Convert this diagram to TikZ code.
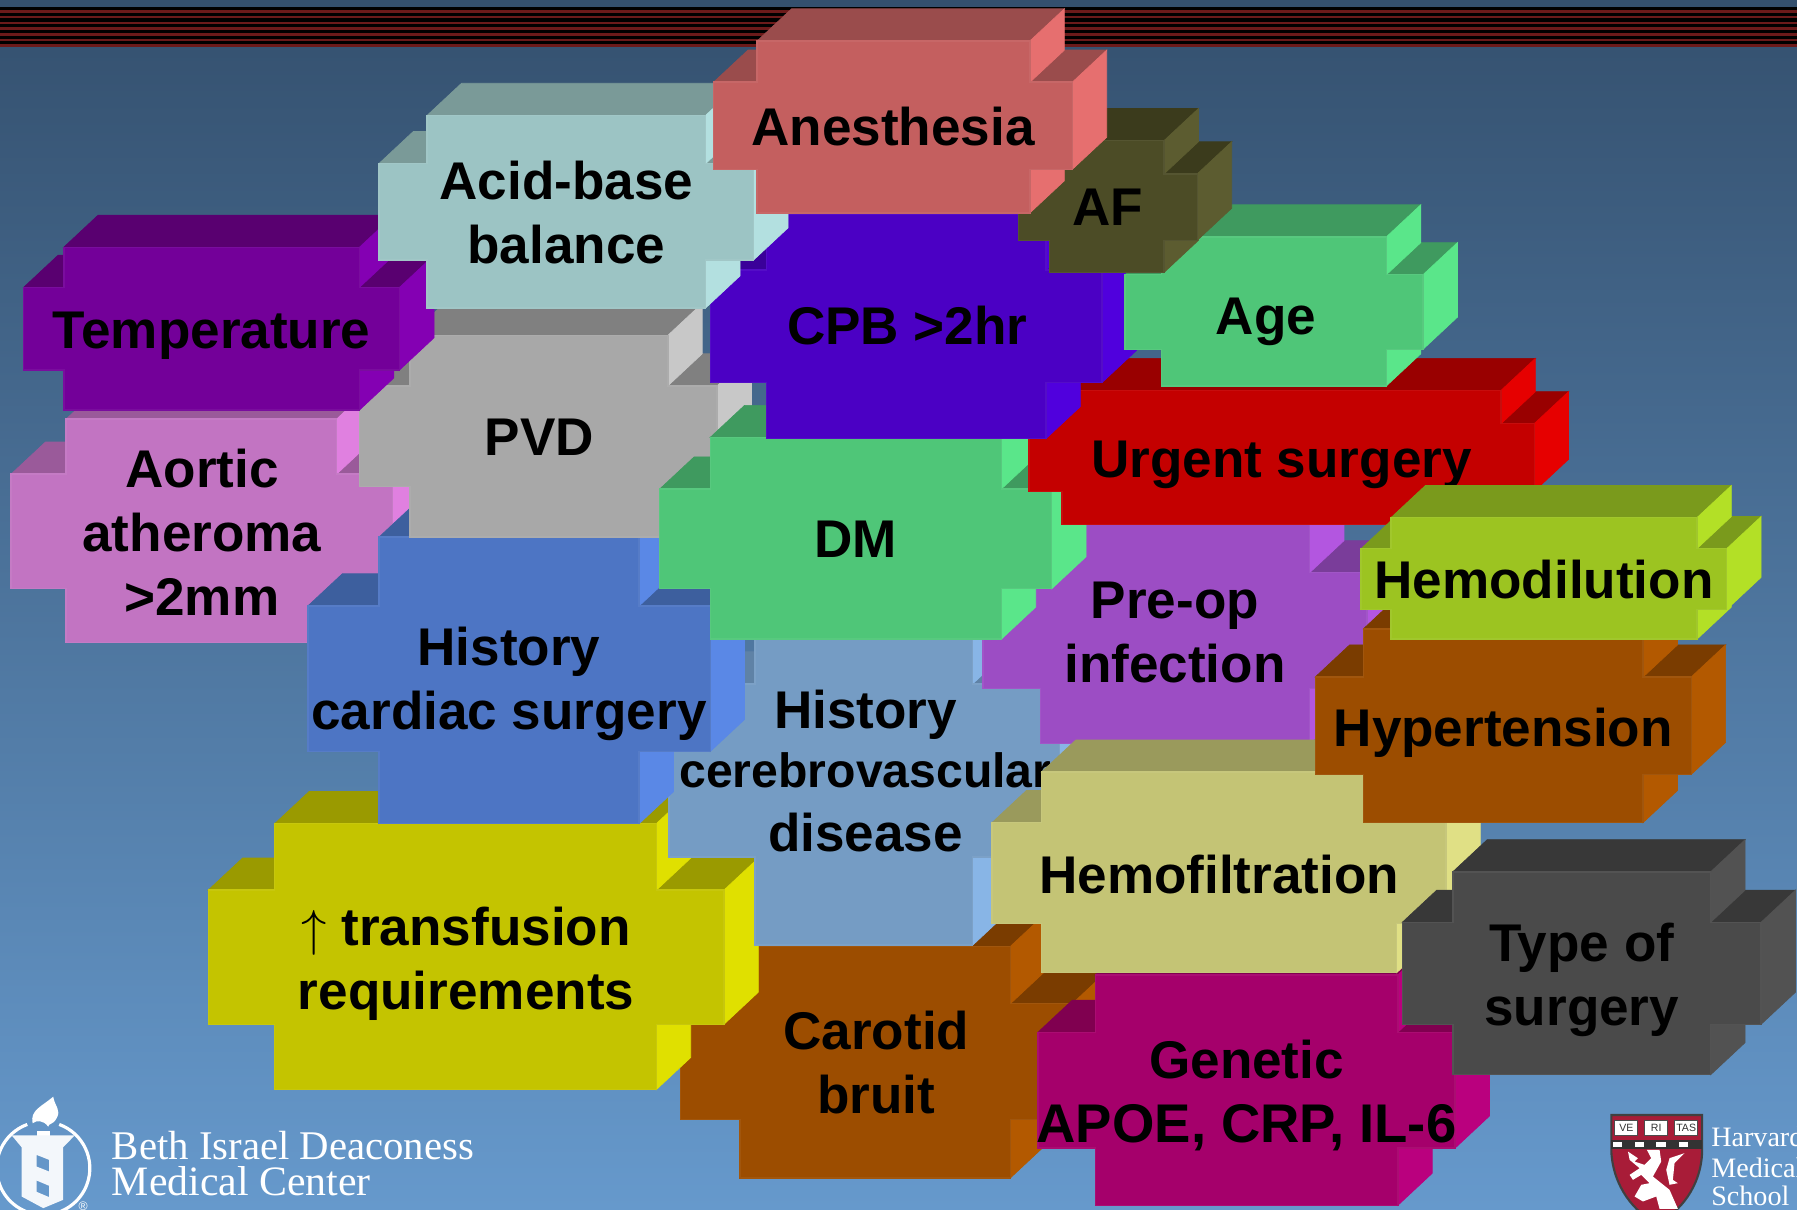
\documentclass[tikz,border=0pt]{standalone}
\usepackage{fontspec}
\setmainfont{Liberation Sans}
\newfontfamily\logofont{Liberation Serif}
\usetikzlibrary{positioning}

% front (F), top (T) and side (S) of each block colour
\definecolor{roseF}{HTML}{C45F5F}\definecolor{roseT}{HTML}{9A4C4C}\definecolor{roseS}{HTML}{E66F6F}
\definecolor{mistF}{HTML}{9CC4C4}\definecolor{mistT}{HTML}{7A9A98}\definecolor{mistS}{HTML}{B3E0E0}
\definecolor{plumF}{HTML}{730099}\definecolor{plumT}{HTML}{590070}\definecolor{plumS}{HTML}{8400B3}
\definecolor{greyF}{HTML}{A8A8A8}\definecolor{greyT}{HTML}{808080}\definecolor{greyS}{HTML}{C8C8C8}
\definecolor{orchidF}{HTML}{C274C2}\definecolor{orchidT}{HTML}{9A5A9A}\definecolor{orchidS}{HTML}{E080E0}
\definecolor{cobaltF}{HTML}{4D75C4}\definecolor{cobaltT}{HTML}{3D5F9E}\definecolor{cobaltS}{HTML}{5A88E6}
\definecolor{steelF}{HTML}{759CC4}\definecolor{steelT}{HTML}{5F82A6}\definecolor{steelS}{HTML}{88B5E6}
\definecolor{leafF}{HTML}{4FC678}\definecolor{leafT}{HTML}{3F9A5F}\definecolor{leafS}{HTML}{5AE68A}
\definecolor{indigoF}{HTML}{4B00C4}\definecolor{indigoT}{HTML}{3A0099}\definecolor{indigoS}{HTML}{5000DD}
\definecolor{oliveF}{HTML}{4C4C26}\definecolor{oliveT}{HTML}{3B3B1C}\definecolor{oliveS}{HTML}{5C5C30}
\definecolor{redF}{HTML}{C40000}\definecolor{redT}{HTML}{990000}\definecolor{redS}{HTML}{E60000}
\definecolor{violetF}{HTML}{9C4DC4}\definecolor{violetT}{HTML}{7A3D9A}\definecolor{violetS}{HTML}{B356E0}
\definecolor{limeF}{HTML}{9CC421}\definecolor{limeT}{HTML}{7A9A1C}\definecolor{limeS}{HTML}{B3E026}
\definecolor{rustF}{HTML}{9C4D00}\definecolor{rustT}{HTML}{7A3C00}\definecolor{rustS}{HTML}{B35900}
\definecolor{khakiF}{HTML}{C4C475}\definecolor{khakiT}{HTML}{9A9A5C}\definecolor{khakiS}{HTML}{E0E085}
\definecolor{coalF}{HTML}{4A4A4A}\definecolor{coalT}{HTML}{383838}\definecolor{coalS}{HTML}{525252}
\definecolor{mustardF}{HTML}{C4C400}\definecolor{mustardT}{HTML}{9A9A00}\definecolor{mustardS}{HTML}{E0E000}
\definecolor{berryF}{HTML}{A5006B}\definecolor{berryT}{HTML}{800050}\definecolor{berryS}{HTML}{BA007E}
\definecolor{slideT}{HTML}{34506E}\definecolor{slideB}{HTML}{6699CC}
\definecolor{stripe}{HTML}{6B1A1A}
\definecolor{crimson}{HTML}{A81C38}

\begin{document}
\begin{tikzpicture}[
  x=0.01146cm, y=-0.01146cm,
  blocktext/.style={
    font=\fontsize{15.1}{18.2}\selectfont\bfseries, align=center, inner sep=0pt, text=black
  },
  facet/.style={fill=#1, draw=#1, line width=0.2pt},
  front/.style={fill=#1, draw=#1!95!white, line width=0.4pt, line join=miter},
  logotext/.style={font=\fontsize{11.6}{12}\logofont, text=white, anchor=base west, inner sep=0pt},
  schooltext/.style={font=\fontsize{8}{9}\logofont, text=white, anchor=base west, inner sep=0pt}
]
\useasboundingbox (0,0) rectangle (1568,1055);
\shade[top color=slideT, bottom color=slideB] (0,0) rectangle (1568,1055);

% header stripes
\fill[black] (0,6) rectangle (1568,41);
\foreach \y in {9.9,14.8,20,25,30,35,39.6}
  \fill[stripe] (0,\y-1.2) rectangle (1568,\y+1.2);

% blocks from back to front: name/colour/x1/x2/x3/x4/y1/y2/y3/y4/text shift/text
\begin{scope}[shift={(0.7,0.7)}]
\foreach \nm/\col/\xa/\xb/\xc/\xd/\ya/\yb/\yc/\yd/\tx/\ty/\txt in {
  aortic/orchid/9/57/293/342/365/413/513/560/0/1/{Aortic\\atheroma\\>2mm},
  carotid/rust/593/645/881/935/825/875/976/1027/0/0/{Carotid\\bruit},
  transfusion/mustard/181/239/572/631/718/776/893/950/0/6/{$\uparrow$ transfusion\\requirements},
  cerebro/steel/583/658/848/924/520/596/747/824/1/0/{History\\[-1.3pt]{\fontsize{13.7}{18.2}\selectfont cerebrovascular}\\disease},
  preop/violet/857/907/1142/1192/450/499/600/648/0/2/{Pre-op\\infection},
  cardiac/cobalt/268/330/557/619/468/528/655/718/0/3/{History\\cardiac surgery},
  pvd/grey/313/357/582/625/292/336/424/468/1/1/{PVD},
  temperature/plum/20/55/313/348/215/250/322/357/0/6/{Temperature},
  dm/leaf/575/619/873/917/381/426/513/557/0/1/{DM},
  urgent/red/897/926/1309/1338/340/369/428/457/0/6/{Urgent surgery},
  cpb/indigo/619/668/912/961/186/235/333/382/1/-1/{CPB >2hr},
  age/leaf/981/1013/1209/1241/206/239/304/336/-7/9/{Age},
  acid/mist/330/372/615/657/100/142/226/268/0/1/{Acid-base\\balance},
  af/olive/888/915/1015/1044/122/151/209/237/0/1/{AF},
  anesthesia/rose/622/660/898/935/35/71/147/185/0/0/{Anesthesia},
  genetic/berry/905/955/1219/1269/850/900/1001/1051/0/5/{Genetic\\{\fontsize{15.5}{18.2}\selectfont APOE, CRP, IL-6}},
  hemofiltration/khaki/865/908/1218/1261/673/717/805/848/0/2/{Hemofiltration},
  hypertension/rust/1147/1189/1433/1475/548/590/675/717/0/6/{Hypertension},
  hemodilution/lime/1187/1213/1480/1506/451/478/531/557/0/1/{Hemodilution},
  surgerytype/coal/1223/1267/1492/1536/760/804/893/937/0/6/{Type of\\surgery}%
}{
  \fill[facet=\col T] (\xb,\ya) -- (\xb+30,\ya-28) -- (\xc+30,\ya-28) -- (\xc,\ya) -- cycle;
  \fill[facet=\col T] (\xa,\yb) -- (\xa+30,\yb-28) -- (\xb+30,\yb-28) -- (\xb,\yb) -- cycle;
  \fill[facet=\col T] (\xc,\yb) -- (\xc+30,\yb-28) -- (\xd+30,\yb-28) -- (\xd,\yb) -- cycle;
  \fill[facet=\col S] (\xc,\ya) -- (\xc+30,\ya-28) -- (\xc+30,\yb-28) -- (\xc,\yb) -- cycle;
  \fill[facet=\col S] (\xd,\yb) -- (\xd+30,\yb-28) -- (\xd+30,\yc-28) -- (\xd,\yc) -- cycle;
  \fill[facet=\col S] (\xc,\yc) -- (\xc+30,\yc-28) -- (\xc+30,\yd-28) -- (\xc,\yd) -- cycle;
  \draw[front=\col F] (\xb,\ya) -- (\xc,\ya) -- (\xc,\yb) -- (\xd,\yb) -- (\xd,\yc) -- (\xc,\yc)
    -- (\xc,\yd) -- (\xb,\yd) -- (\xb,\yc) -- (\xa,\yc) -- (\xa,\yb) -- (\xb,\yb) -- cycle;
  \node[blocktext] (\nm) at ({(\xa+\xd)/2+\tx},{(\ya+\yd)/2+\ty}) {\txt};
}
\end{scope}

% hospital mark, coordinates counted in the crop of the logo
\begin{scope}[shift={(0,925)}, x=0.00333cm, y=-0.00333cm]
  \draw[white, line width=0.9pt] (178,193.4) arc[start angle=-70, end angle=90, radius=140];
  \draw[white, line width=0.9pt] (82,193.4) arc[start angle=-110, end angle=-270, radius=140];
  \fill[white] (98,190) .. controls (90,150) and (125,140) .. (160,110)
    .. controls (165,140) and (185,150) .. (170,175) .. controls (160,195) and (145,190) .. (145,200)
    .. controls (130,180) and (110,180) .. (98,190) -- cycle;
  \fill[white] (110,212) rectangle (150,228);
  \fill[white!92!slideB, even odd rule] (35,226) -- (225,226) -- (190,262) -- (190,420) -- (130,445)
    -- (65,410) -- (65,262) -- cycle
    (110,285) -- (148,300) -- (148,335) -- (110,320) -- cycle
    (110,362) -- (148,378) -- (148,412) -- (110,396) -- cycle;
  \node[font=\fontsize{3.5}{4}\selectfont, text=white, inner sep=0pt] (regmark) at (250,438) {\textregistered};
\end{scope}
\node[logotext] (bethname) at (97,1012) {Beth Israel Deaconess};
\node[logotext, font=\fontsize{11.9}{12}\logofont] (centername) at (97,1043) {Medical Center};

% school shield
\begin{scope}[shift={(1361,942.4)}, x=0.00333cm, y=-0.00333cm]
  \clip (0,0) rectangle (700,390);
  \draw[fill=crimson, draw=black!75, line width=0.6pt] (155,105) -- (428,105) -- (428,215)
    .. controls (425,320) and (360,400) .. (292,430) .. controls (225,400) and (160,320) .. (155,215) -- cycle;
  \fill[black!80] (155,180) rectangle (428,206);
  \foreach \xp in {160,225,290,358}
    \fill[white] (\xp,186) rectangle (\xp+28,200);
  \foreach \xp/\lbl in {165/VE,255/RI,345/TAS}{
    \draw[fill=white, draw=black!70, line width=0.3pt] (\xp,122) rectangle (\xp+70,168);
    \node[font=\fontsize{3}{3}\selectfont, text=black!80, inner sep=0pt] at (\xp+35,145) {\lbl};
  }
  \fill[white] (205,215) -- (235,235) -- (225,245) -- (255,255) -- (275,235) -- (262,210) -- (300,210)
    -- (305,245) -- (280,290) -- (330,330) -- (355,387) -- (300,387) -- (290,350) -- (250,365)
    -- (225,350) -- (245,315) -- (270,310) -- (245,285) -- (220,300) -- (210,285) -- (240,265)
    -- (210,240) -- cycle;
  \fill[white] (320,270) -- (330,235) -- (375,220) -- (345,250) -- (340,300) -- (355,310) -- (330,315) -- cycle;
\end{scope}

\begin{scope}
  \clip (0,0) rectangle (1568,1055);
  \node[schooltext] (harvard) at (1492.6,1000) {Harvard};
  \node[schooltext] (medical) at (1492.6,1027) {Medical};
  \node[schooltext] (school) at (1492.6,1052) {School};
\end{scope}
\end{tikzpicture}
\end{document}
